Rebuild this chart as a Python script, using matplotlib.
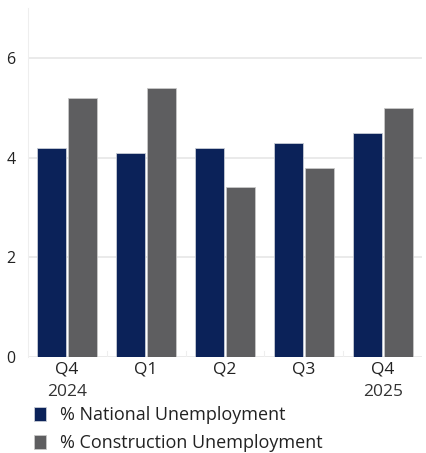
import matplotlib.pyplot as plt
import numpy as np

plt.rcParams['font.family'] = ['Open Sans', 'DejaVu Sans']

quarters = ["Q4", "Q1", "Q2", "Q3", "Q4"]
years = ["2024", "", "", "", "2025"]
national = [4.2, 4.1, 4.2, 4.3, 4.5]
construction = [5.2, 5.4, 3.4, 3.8, 5.0]

navy = "#0B2259"
grey = "#5E5E60"

fig = plt.figure(figsize=(4.26, 4.53), dpi=100)
ax = fig.add_axes([28 / 426, 1 - 357 / 453, 394 / 426, 349 / 453])

x = np.arange(len(quarters))
w = 0.37
ax.bar(x - 0.2, national, w, color=navy, edgecolor="#c8ccd6", linewidth=0.6,
       label="% National Unemployment", zorder=3)
ax.bar(x + 0.2, construction, w, color=grey, edgecolor="#c8c8c8", linewidth=0.6,
       label="% Construction Unemployment", zorder=3)

ax.set_xlim(-0.494, 4.494)
ax.set_ylim(0, 7)
ax.set_yticks([0, 2, 4, 6])
ax.yaxis.grid(True, color="#e6e6e6", linewidth=1.2, zorder=0)
ax.set_axisbelow(True)

for side in ["top", "right", "bottom"]:
    ax.spines[side].set_visible(False)
ax.spines["left"].set_color("#eeeeee")
ax.spines["left"].set_linewidth(0.8)

ax.tick_params(axis="y", length=0, labelsize=11.5, labelcolor="#222222", pad=9)
ax.set_xticks(x)
ax.set_xticklabels(quarters, fontsize=12.5, color="#222222")
ax.tick_params(axis="x", length=0, pad=3)

# light separators between quarter groups at the baseline
for sep in x[:-1] + 0.5:
    ax.plot([sep, sep], [0, 0.12], color="#eeeeee", linewidth=0.8, zorder=1)

for xi, yr in zip(x, years):
    if yr:
        ax.text(xi, -0.55, yr, ha="center", va="top", fontsize=12.5, color="#333333")

ax.legend(loc="upper left", bbox_to_anchor=(-0.025, -0.095), frameon=False,
          fontsize=13, handlelength=0.65, handleheight=0.75, handletextpad=0.75,
          labelspacing=0.55, labelcolor="#222222")

fig.savefig("out.png", dpi=100)
